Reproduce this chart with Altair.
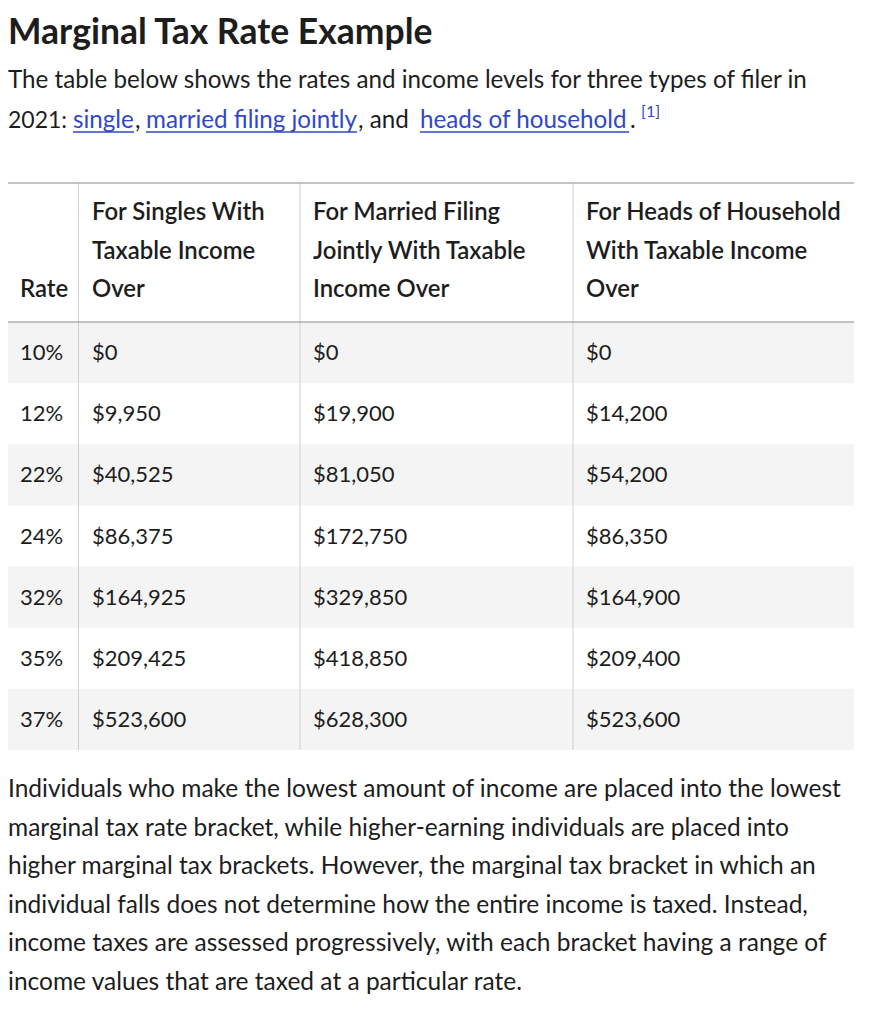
import altair as alt
import pandas as pd

# ---------------- data ----------------
title_text = "Marginal Tax Rate Example"
intro_line1 = "The table below shows the rates and income levels for three types of filer in"
intro_pieces = ["2021:", "single", ",", "married filing jointly", ", and", "heads of household", ".", "[1]"]
intro_links = [False, True, False, True, False, True, False, False]

header_rate = "Rate"
header_singles = ["For Singles With", "Taxable Income", "Over"]
header_married = ["For Married Filing", "Jointly With Taxable", "Income Over"]
header_heads = ["For Heads of Household", "With Taxable Income", "Over"]

rates = [10, 12, 22, 24, 32, 35, 37]
singles = [0, 9950, 40525, 86375, 164925, 209425, 523600]
married = [0, 19900, 81050, 172750, 329850, 418850, 628300]
heads = [0, 14200, 54200, 86350, 164900, 209400, 523600]

paragraph = [
    "Individuals who make the lowest amount of income are placed into the lowest",
    "marginal tax rate bracket, while higher-earning individuals are placed into",
    "higher marginal tax brackets. However, the marginal tax bracket in which an",
    "individual falls does not determine how the entire income is taxed. Instead,",
    "income taxes are assessed progressively, with each bracket having a range of",
    "income values that are taxed at a particular rate.",
]

# ---------------- layout / style ----------------
W, H = 874, 1008
FONT = "Lato"
TXT = "#1d1d1d"
LINK = "#2f48c9"
SHADE = "#f4f4f4"
FS_CELL = 22
FS_BODY = 24.2
FS_PARA = 24.5
FS_HEAD = 23.9

TABLE_L, TABLE_R = 0, 846
TABLE_TOP, HEAD_BOTTOM, TABLE_BOTTOM = 175, 314, 742
VLINES = [70.5, 292, 565]
COL_X = [12, 84, 305, 578]

rate_labels = [f"{r}%" for r in rates]
rows = pd.DataFrame({
    "idx": list(range(len(rates))),
    "rate": rate_labels,
    "singles": singles,
    "married": married,
    "heads": heads,
})

yscale = alt.Scale(domain=rate_labels, range=[HEAD_BOTTOM, TABLE_BOTTOM],
                   paddingInner=0, paddingOuter=0)
Yrow = alt.Y("rate:N", scale=yscale, axis=None)

one = pd.DataFrame({"k": [0]})

def txt(text, x, y, size=FS_BODY, color=TXT, weight="normal", font=FONT, **kw):
    return alt.Chart(pd.DataFrame({"t": [text]})).mark_text(
        align="left", baseline="alphabetic", fontSize=size, color=color,
        fontWeight=weight, font=font, **kw
    ).encode(x=alt.value(x), y=alt.value(y), text="t:N")

layers = []

# row shading
layers.append(
    alt.Chart(rows).transform_filter("datum.idx % 2 == 0").mark_rect(color=SHADE)
    .encode(x=alt.value(TABLE_L), x2=alt.value(TABLE_R), y=Yrow)
)

# lines
for vx in VLINES:
    layers.append(alt.Chart(one).mark_rule(color="#d0d0d0", strokeWidth=1).encode(
        x=alt.value(vx), y=alt.value(TABLE_TOP), y2=alt.value(TABLE_BOTTOM)))
for hy in [TABLE_TOP, HEAD_BOTTOM]:
    layers.append(alt.Chart(one).mark_rule(color="#8c8c8c", strokeWidth=1.2).encode(
        x=alt.value(TABLE_L), x2=alt.value(TABLE_R), y=alt.value(hy)))

# cell text
cell = dict(align="left", baseline="alphabetic", fontSize=FS_CELL, font=FONT, color=TXT, dy=7.5)
layers.append(alt.Chart(rows).mark_text(**cell).encode(x=alt.value(COL_X[0]), y=Yrow, text="rate:N"))
for i, col in enumerate(["singles", "married", "heads"]):
    layers.append(alt.Chart(rows).mark_text(**cell).encode(
        x=alt.value(COL_X[i + 1]), y=Yrow, text=alt.Text(f"{col}:Q", format="$,")))

# header
HEAD_Y0, LH = 212, 38.5
layers.append(txt(header_rate, COL_X[0], HEAD_Y0 + 2 * LH, size=FS_HEAD, weight=600))
for i, hdr in enumerate([header_singles, header_married, header_heads]):
    for j, line in enumerate(hdr):
        layers.append(txt(line, COL_X[i + 1], HEAD_Y0 + j * LH, size=FS_HEAD, weight=600))

# title and intro
layers.append(txt(title_text, 0, 36, size=35.5, weight="bold"))
layers.append(txt(intro_line1, 0, 80))
piece_x = [0, 65, 127, 138, 350, 412, 622, 633]
piece_end = {1: 126, 3: 349, 5: 621}
piece_size = [23, FS_BODY, FS_BODY, FS_BODY, FS_BODY, FS_BODY, FS_BODY, 16]
for k, (p, lk) in enumerate(zip(intro_pieces, intro_links)):
    if k == 7:
        layers.append(txt(p, piece_x[k], 109, size=piece_size[k], color=LINK))
    else:
        layers.append(txt(p, piece_x[k], 120, size=piece_size[k], color=LINK if lk else TXT))
    if lk:
        layers.append(alt.Chart(one).mark_rule(color=LINK, strokeWidth=1.3).encode(
            x=alt.value(piece_x[k]), x2=alt.value(piece_end[k]), y=alt.value(124)))

# paragraph
for j, line in enumerate(paragraph):
    layers.append(txt(line, 0, 789 + j * 38.6, size=FS_PARA))

chart = alt.layer(*layers).properties(
    width=W, height=H, padding=0, autosize=alt.AutoSizeParams(type="none"),
    background="white"
).configure_view(stroke=None)

chart.save("out.html", embed_options={"renderer": "svg", "actions": False})
